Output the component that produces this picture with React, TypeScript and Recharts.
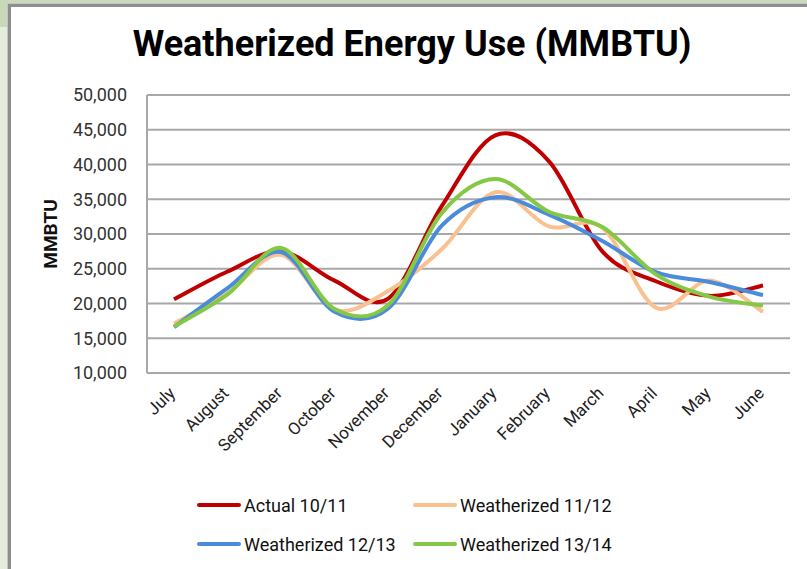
import React from "react";
import { LineChart, Line, XAxis, YAxis, CartesianGrid, Label } from "recharts";

const months = ["July", "August", "September", "October", "November", "December", "January", "February", "March", "April", "May", "June"];
const actual1011 = [20600, 24600, 27500, 23300, 20700, 34000, 44200, 40500, 27500, 23200, 21100, 22600];
const weather1112 = [17100, 21500, 27000, 19100, 21800, 27800, 36000, 31100, 30900, 19400, 23300, 18800];
const weather1213 = [16600, 22200, 27400, 18800, 19300, 31200, 35300, 32800, 29000, 24500, 23100, 21200];
const weather1314 = [16700, 21300, 28000, 19200, 19800, 33000, 37900, 33200, 31000, 24200, 21000, 19700];
const yTicks = [10000, 15000, 20000, 25000, 30000, 35000, 40000, 45000, 50000];

const series = [
  { key: "a1011", name: "Actual 10/11", color: "#c00000", values: actual1011 },
  { key: "w1112", name: "Weatherized 11/12", color: "#fac090", values: weather1112 },
  { key: "w1213", name: "Weatherized 12/13", color: "#4a8bdc", values: weather1213 },
  { key: "w1314", name: "Weatherized 13/14", color: "#84c846", values: weather1314 },
];

const data = months.map((m, i) => {
  const row: any = { month: m };
  series.forEach((s) => (row[s.key] = s.values[i]));
  return row;
});

// excel style smoothing (catmull-rom through the points)
const excelCurve = (ctx: any) => {
  let pts: number[][] = [];
  return {
    areaStart() {},
    areaEnd() {},
    lineStart() { pts = []; },
    point(x: number, y: number) { pts.push([+x, +y]); },
    lineEnd() {
      if (!pts.length) return;
      ctx.moveTo(pts[0][0], pts[0][1]);
      for (let i = 0; i < pts.length - 1; i++) {
        const p0 = pts[i - 1] || pts[i];
        const p1 = pts[i];
        const p2 = pts[i + 1];
        const p3 = pts[i + 2] || p2;
        ctx.bezierCurveTo(
          p1[0] + (p2[0] - p0[0]) / 6, p1[1] + (p2[1] - p0[1]) / 6,
          p2[0] - (p3[0] - p1[0]) / 6, p2[1] - (p3[1] - p1[1]) / 6,
          p2[0], p2[1]
        );
      }
    },
  };
};

const font = "Roboto, 'Liberation Sans', sans-serif";

const MonthTick = ({ x, y, payload }: any) => (
  <text x={x - 2} y={y + 9} transform={`rotate(-45, ${x - 2}, ${y + 9})`} textAnchor="end" dy="0.35em"
    fontSize={17} fill="#222" fontFamily={font}>
    {payload.value}
  </text>
);

const AxisName = ({ viewBox }: any) => {
  const cx = 50;
  const cy = viewBox.y + viewBox.height / 2;
  return (
    <text x={cx} y={cy} transform={`rotate(-90, ${cx}, ${cy})`} textAnchor="middle" dy="0.35em"
      fontSize={19} fontWeight="bold" fill="#111" fontFamily={font}>
      MMBTU
    </text>
  );
};

export default function App() {
  return (
    <div style={{ position: "fixed", left: 0, top: 0, width: 807, height: 569, background: "#e4ecdd", overflow: "hidden", fontFamily: font }}>
      <div style={{ position: "absolute", left: 0, top: 0, width: 807, height: 4, background: "#cbdabb" }} />
      <div style={{ position: "absolute", left: 0, top: 0, width: 8, height: 27, background: "#c9d8b8" }} />
      <div style={{ position: "absolute", left: 7, top: 3, width: 810, height: 580, borderLeft: "1px solid #c4c4c4", borderTop: "1px solid #c4c4c4" }}>
        <div style={{ width: "100%", height: "100%", borderLeft: "3px solid #8e8e8e", borderTop: "3px solid #8e8e8e", background: "#fff" }} />
      </div>

      <div style={{ position: "absolute", left: 0, top: 23, width: 824, textAlign: "center", fontSize: 36, fontWeight: "bold", color: "#000" }}>
        Weatherized Energy Use (MMBTU)
      </div>

      <div style={{ position: "absolute", left: 0, top: 0 }}>
        <LineChart width={807} height={569} data={data} margin={{ top: 95, right: 17, left: 67, bottom: 136 }}>
          <CartesianGrid vertical={false} stroke="#a8a8a8" strokeWidth={2} />
          <XAxis dataKey="month" interval={0} height={60} padding={{ left: 27, right: 27 }} tickLine={false}
            axisLine={{ stroke: "#a8a8a8", strokeWidth: 2 }} tick={<MonthTick />} />
          <YAxis width={80} domain={[10000, 50000]} ticks={yTicks} tickLine={false} tickSize={0} tickMargin={20}
            axisLine={{ stroke: "#a8a8a8", strokeWidth: 2 }} tickFormatter={(v: number) => v.toLocaleString("en-US")}
            tick={{ fontSize: 18, fill: "#333", fontFamily: font }}>
            <Label content={<AxisName />} />
          </YAxis>
          {series.map((s) => (
            <Line key={s.key} dataKey={s.key} name={s.name} stroke={s.color} strokeWidth={4} dot={false}
              type={excelCurve as any} isAnimationActive={false} />
          ))}
        </LineChart>
      </div>

      <div style={{ position: "absolute", left: 197, top: 493, display: "grid", gridTemplateColumns: "216px 220px", rowGap: 15, fontSize: 18, color: "#111" }}>
        {series.map((s) => (
          <div key={s.key} style={{ display: "flex", alignItems: "center", height: 24, whiteSpace: "nowrap" }}>
            <span style={{ display: "inline-block", width: 44, height: 4, borderRadius: 2, background: s.color, marginRight: 3 }} />
            {s.name}
          </div>
        ))}
      </div>
    </div>
  );
}
